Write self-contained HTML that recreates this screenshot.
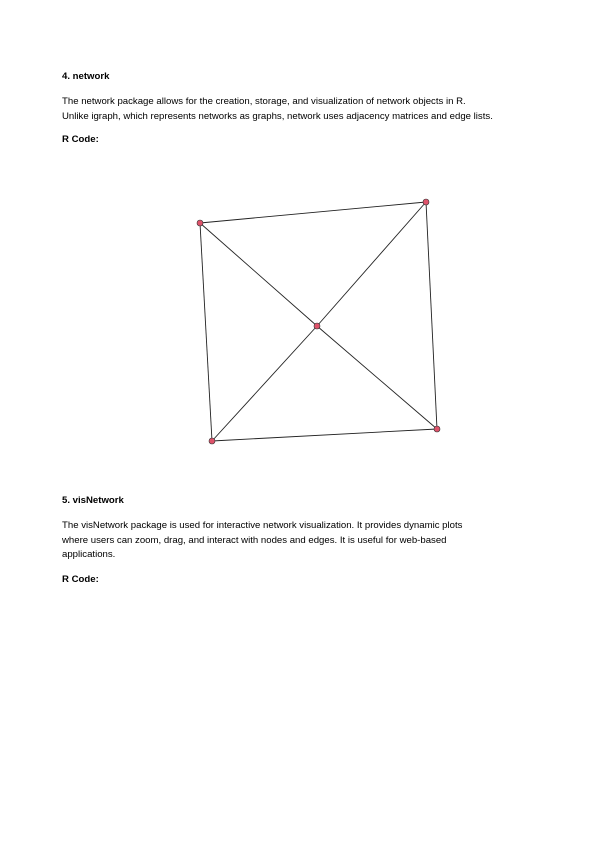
<!DOCTYPE html>
<html><head><meta charset="utf-8"><style>
body{margin:0;width:595px;height:841px;background:#fff;position:relative;font-family:"Liberation Sans",sans-serif;color:#000}
.t{position:absolute;left:62px;font-size:9.6px;white-space:nowrap;line-height:14.6px}
.b{font-weight:bold}
</style></head><body>
<div class="t b" style="top:70px">4. network</div>
<div class="t" style="top:95px">The network package allows for the creation, storage, and visualization of network objects in R.<br>Unlike igraph, which represents networks as graphs, network uses adjacency matrices and edge lists.</div>
<div class="t b" style="top:133px">R Code:</div>
<svg style="position:absolute;left:0;top:0" width="595" height="841">
<g id="edges"></g><g id="nodes"></g>
</svg>
<div class="t b" style="top:494px">5. visNetwork</div>
<div class="t" style="top:519px">The visNetwork package is used for interactive network visualization. It provides dynamic plots<br>where users can zoom, drag, and interact with nodes and edges. It is useful for web-based<br>applications.</div>
<div class="t b" style="top:573px">R Code:</div>
<script>
const nodeX=[200,426,317,437,212];
const nodeY=[223,202,326,429,441];
const edgeFrom=[0,0,1,3,0,1,2,2];
const edgeTo=[1,4,3,4,2,2,3,4];
const NS='http://www.w3.org/2000/svg';
const eg=document.getElementById('edges'),ng=document.getElementById('nodes');
edgeFrom.forEach((f,i)=>{const t=edgeTo[i];const l=document.createElementNS(NS,'line');
l.setAttribute('x1',nodeX[f]);l.setAttribute('y1',nodeY[f]);l.setAttribute('x2',nodeX[t]);l.setAttribute('y2',nodeY[t]);
l.setAttribute('stroke','#222');l.setAttribute('stroke-width','0.9');


eg.appendChild(l);});
nodeX.forEach((x,i)=>{const c=document.createElementNS(NS,'circle');
c.setAttribute('cx',x);c.setAttribute('cy',nodeY[i]);c.setAttribute('r','3');
c.setAttribute('fill','#df536b');c.setAttribute('stroke','#333');c.setAttribute('stroke-width','0.6');


ng.appendChild(c);});
</script>
</body></html>
